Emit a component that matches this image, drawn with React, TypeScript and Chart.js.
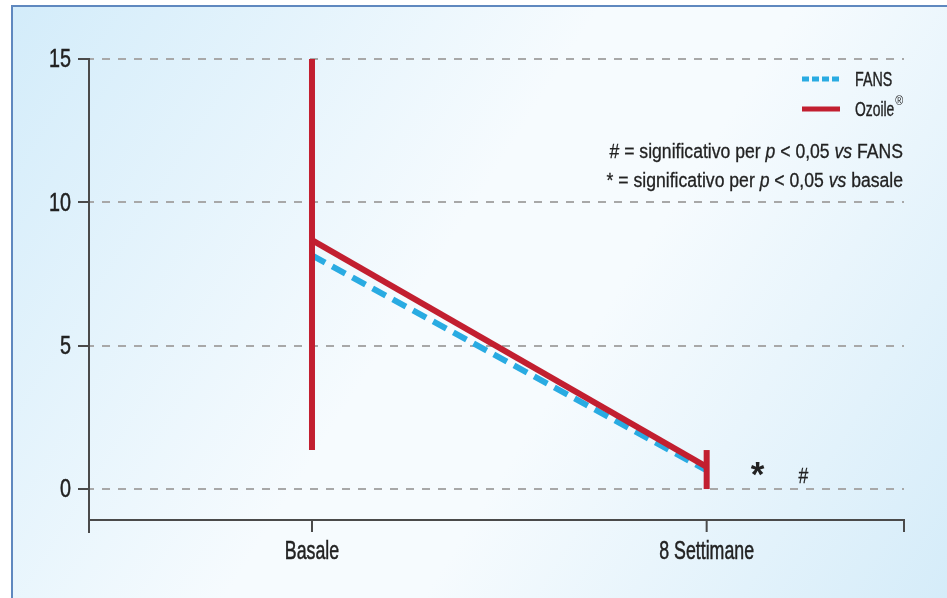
import React, { useEffect, useRef } from 'react';
import { Chart, registerables } from 'chart.js';

Chart.register(...registerables);

const categories = ['Basale', '8 Settimane'];
const seriesNames = ['FANS', 'Ozoile'];
const fansValues = [8.15, 0.65];
const ozoileValues = [8.68, 0.77];
const ozoileErrLow = [1.36, 0];
const ozoileErrHigh = [15, 1.36];
const yTicks = [0, 5, 10, 15];
const noteLines = [
  [
    { t: '# = significativo per ', i: false },
    { t: 'p', i: true },
    { t: ' < 0,05 ', i: false },
    { t: 'vs', i: true },
    { t: ' FANS', i: false },
  ],
  [
    { t: '* = significativo per ', i: false },
    { t: 'p', i: true },
    { t: ' < 0,05 ', i: false },
    { t: 'vs', i: true },
    { t: ' basale', i: false },
  ],
];
const markers = [
  { text: '*', x: 1.129, y: 0.1 },
  { text: '#', x: 1.245, y: 0.21 },
];

const FONT = '"Liberation Sans", Arial, sans-serif';
const BLUE = '#29abe2';
const RED = '#c21f30';
const TEXT = '#222222';
const AXIS = '#4a4a4a';

function drawText(ctx: any, text: string, x: number, y: number, font: string, sx: number, align: string, baseline = 'middle', stroke = 0.5) {
  ctx.save();
  ctx.translate(x, y);
  ctx.scale(sx, 1);
  ctx.font = font;
  ctx.textAlign = align;
  ctx.textBaseline = baseline;
  ctx.fillText(text, 0, 0);
  if (stroke > 0) {
    ctx.strokeStyle = ctx.fillStyle;
    ctx.lineWidth = stroke;
    ctx.strokeText(text, 0, 0);
  }
  ctx.restore();
}

const decorPlugin = {
  id: 'decor',
  beforeDraw(chart: any) {
    const { ctx, width, height } = chart;
    ctx.save();
    ctx.fillStyle = '#ffffff';
    ctx.fillRect(0, 0, width, height);
    const g = ctx.createLinearGradient(11, 5, width, height);
    g.addColorStop(0, '#d3ecfa');
    g.addColorStop(0.45, '#f6fbfe');
    g.addColorStop(0.6, '#f6fbfe');
    g.addColorStop(1, '#d5ecf9');
    ctx.fillStyle = g;
    ctx.fillRect(12, 6, width - 12, height - 6);
    ctx.strokeStyle = '#5f88bf';
    ctx.lineWidth = 2;
    ctx.beginPath();
    ctx.moveTo(12, height);
    ctx.lineTo(12, 6);
    ctx.lineTo(width, 6);
    ctx.stroke();
    ctx.restore();
  },
  beforeDatasetsDraw(chart: any) {
    const { ctx, chartArea } = chart;
    const xs = chart.scales.x;
    const ys = chart.scales.y;
    ctx.save();
    ctx.strokeStyle = '#a8a8a8';
    ctx.lineWidth = 2;
    ctx.setLineDash([8, 8]);
    ctx.lineDashOffset = 4;
    yTicks.forEach((v) => {
      const y = Math.round(ys.getPixelForValue(v));
      ctx.beginPath();
      ctx.moveTo(chartArea.left + 1, y);
      ctx.lineTo(chartArea.right, y);
      ctx.stroke();
    });
    ctx.setLineDash([]);
    ctx.strokeStyle = AXIS;
    ctx.lineWidth = 2;
    const bottom = chartArea.bottom;
    ctx.beginPath();
    ctx.moveTo(chartArea.left, ys.getPixelForValue(15));
    ctx.lineTo(chartArea.left, bottom + 13);
    ctx.moveTo(chartArea.left, bottom);
    ctx.lineTo(chartArea.right, bottom);
    ctx.lineTo(chartArea.right, bottom + 12);
    categories.forEach((_, i) => {
      const x = xs.getPixelForValue(i);
      ctx.moveTo(x, bottom);
      ctx.lineTo(x, bottom + 12);
    });
    yTicks.forEach((v) => {
      const y = Math.round(ys.getPixelForValue(v));
      ctx.moveTo(chartArea.left - 11, y);
      ctx.lineTo(chartArea.left + 1, y);
    });
    ctx.stroke();
    ctx.restore();
  },
  afterDraw(chart: any) {
    const { ctx, chartArea } = chart;
    const xs = chart.scales.x;
    const ys = chart.scales.y;
    ctx.save();
    ctx.fillStyle = TEXT;
    ys.ticks.forEach((t: any) => {
      drawText(ctx, String(t.value), chartArea.left - 18, ys.getPixelForValue(t.value) + 1, `26px ${FONT}`, 0.76, 'right');
    });
    xs.ticks.forEach((t: any) => {
      drawText(ctx, categories[t.value], xs.getPixelForValue(t.value), chartArea.bottom + 32, `25px ${FONT}`, 0.71, 'center');
    });
    // legend
    ctx.lineWidth = 5;
    ctx.strokeStyle = BLUE;
    ctx.setLineDash([7, 3]);
    ctx.beginPath();
    ctx.moveTo(802, 79);
    ctx.lineTo(840, 79);
    ctx.stroke();
    ctx.setLineDash([]);
    ctx.strokeStyle = RED;
    ctx.beginPath();
    ctx.moveTo(802, 109);
    ctx.lineTo(840, 109);
    ctx.stroke();
    drawText(ctx, seriesNames[0], 855, 80, `21px ${FONT}`, 0.68, 'left', 'middle', 0.4);
    drawText(ctx, seriesNames[1], 855, 110, `21px ${FONT}`, 0.66, 'left', 'middle', 0.4);
    ctx.font = `21px ${FONT}`;
    const w = ctx.measureText(seriesNames[1]).width * 0.66;
    drawText(ctx, '®', 855 + w + 1, 102, `12px ${FONT}`, 0.9, 'left', 'middle', 0);
    // notes
    const right = 903;
    const sx = 0.88;
    noteLines.forEach((line, li) => {
      let total = 0;
      line.forEach((s) => {
        ctx.font = `${s.i ? 'italic ' : ''}20px ${FONT}`;
        total += ctx.measureText(s.t).width * sx;
      });
      let x = right - total;
      const y = 152 + li * 29;
      line.forEach((s) => {
        const f = `${s.i ? 'italic ' : ''}20px ${FONT}`;
        drawText(ctx, s.t, x, y, f, sx, 'left', 'middle', 0.3);
        ctx.font = f;
        x += ctx.measureText(s.t).width * sx;
      });
    });
    // markers
    drawText(ctx, markers[0].text, xs.getPixelForValue(markers[0].x), ys.getPixelForValue(markers[0].y), `bold 35px ${FONT}`, 1, 'center', 'alphabetic', 0);
    drawText(ctx, markers[1].text, xs.getPixelForValue(markers[1].x), ys.getPixelForValue(markers[1].y), `22px ${FONT}`, 0.8, 'center', 'alphabetic', 0.3);
    ctx.restore();
  },
};

export default function App() {
  const ref = useRef<HTMLCanvasElement | null>(null);
  useEffect(() => {
    document.body.style.margin = '0';
    const datasets: any[] = [];
    datasets.push({
      label: seriesNames[1],
      data: categories.map((_, i) => ({ x: i, y: ozoileValues[i] })),
      borderColor: RED,
      borderWidth: 6,
      pointRadius: 0,
      borderCapStyle: 'butt',
    });
    categories.forEach((_, i) => {
      datasets.push({
        label: 'err' + i,
        data: [
          { x: i, y: ozoileErrLow[i] },
          { x: i, y: ozoileErrHigh[i] },
        ],
        borderColor: RED,
        borderWidth: 6,
        pointRadius: 0,
        borderCapStyle: 'butt',
      });
    });
    datasets.push({
      label: seriesNames[0],
      data: categories.map((_, i) => ({ x: i, y: fansValues[i] })),
      borderColor: BLUE,
      borderWidth: 6,
      borderDash: [15, 8],
      pointRadius: 0,
      borderCapStyle: 'butt',
    });
    const chart = new Chart(ref.current as HTMLCanvasElement, {
      type: 'line',
      data: { datasets },
      plugins: [decorPlugin],
      options: {
        animation: false,
        responsive: false,
        maintainAspectRatio: false,
        layout: { padding: { left: 0, top: 59, right: 43, bottom: 0 } },
        plugins: { legend: { display: false }, tooltip: { enabled: false } },
        scales: {
          x: {
            type: 'linear',
            min: -0.565,
            max: 1.5,
            grid: { display: false, drawTicks: false },
            border: { display: false },
            afterBuildTicks: (s: any) => {
              s.ticks = categories.map((_, i) => ({ value: i }));
            },
            afterFit: (s: any) => {
              s.height = 78;
            },
            ticks: { display: false },
          },
          y: {
            type: 'linear',
            min: -1.08,
            max: 15,
            grid: { display: false, drawTicks: false },
            border: { display: false },
            afterBuildTicks: (s: any) => {
              s.ticks = yTicks.map((v) => ({ value: v }));
            },
            afterFit: (s: any) => {
              s.width = 89;
            },
            ticks: { display: false },
          },
        },
      },
    });
    return () => chart.destroy();
  }, []);
  return (
    <div style={{ width: 947, height: 598 }}>
      <canvas ref={ref} width={947} height={598} style={{ display: 'block' }} />
    </div>
  );
}
